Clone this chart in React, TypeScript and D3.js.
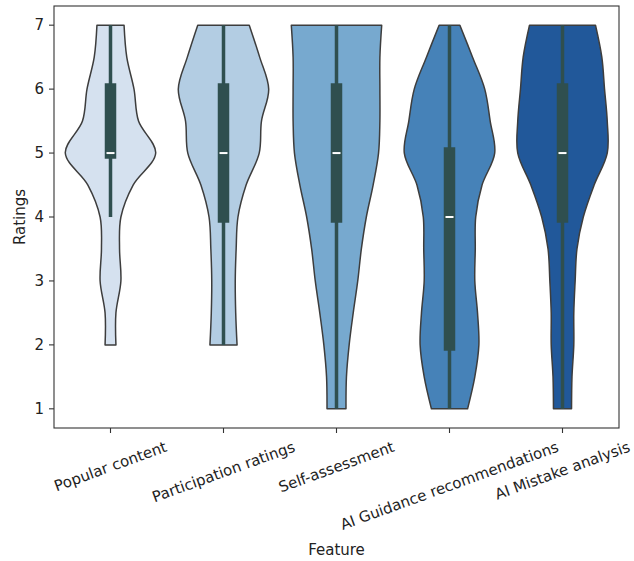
import React, { useEffect, useRef } from 'react';
import * as d3 from 'd3';

const features = [
  'Popular content',
  'Participation ratings',
  'Self-assessment',
  'AI Guidance recommendations',
  'AI Mistake analysis'
];

// rating levels the violin outline was read at (top to bottom)
const levels = [7, 6.5, 6, 5.5, 5, 4.5, 4, 3.5, 3, 2.5, 2, 1.5, 1];

// relative density (violin half-width) at each level
const popularDensity = [0.3, 0.36, 0.52, 0.62, 1.0, 0.5, 0.23, 0.2, 0.23, 0.12, 0.12];
const participationDensity = [0.57, 0.8, 1.0, 0.84, 0.79, 0.5, 0.32, 0.28, 0.26, 0.27, 0.3];
const selfDensity = [1.0, 0.96, 0.96, 0.96, 0.93, 0.81, 0.66, 0.55, 0.47, 0.37, 0.28, 0.22, 0.21];
const guidanceDensity = [0.23, 0.51, 0.78, 0.9, 1.0, 0.72, 0.58, 0.57, 0.56, 0.62, 0.65, 0.56, 0.4];
const mistakeDensity = [0.73, 0.87, 0.93, 0.99, 0.99, 0.7, 0.46, 0.32, 0.28, 0.25, 0.25, 0.21, 0.2];

const densities = [popularDensity, participationDensity, selfDensity, guidanceDensity, mistakeDensity];

// box stats
const q1 = [5, 4, 4, 2, 4];
const medians = [5, 5, 5, 4, 5];
const q3 = [6, 6, 6, 5, 6];
const whiskerLow = [4, 2, 1, 1, 1];
const whiskerHigh = [7, 7, 7, 7, 7];

const yTicks = [1, 2, 3, 4, 5, 6, 7];
const colors = ['#d5e1ef', '#b3cde3', '#77a9cf', '#4682b8', '#21589a'];

const width = 634;
const height = 561;
const margin = { top: 6, right: 15, bottom: 133, left: 54 };
const font = 'DejaVu Sans, sans-serif';
const fontSize = 15;

function App() {
  const ref = useRef<SVGSVGElement>(null);

  useEffect(() => {
    document.body.style.margin = '0';
    const svg = d3.select(ref.current);
    svg.selectAll('*').remove();

    const x = d3
      .scaleBand()
      .domain(features)
      .range([margin.left, width - margin.right])
      .padding(0);
    const y = d3
      .scaleLinear()
      .domain([0.7, 7.3])
      .range([height - margin.bottom, margin.top]);

    const halfMax = x.bandwidth() * 0.4;
    const bottom = height - margin.bottom;

    features.forEach((f, i) => {
      const cx = x(f)! + x.bandwidth() / 2;
      const pts = densities[i].map((d, k) => ({ r: levels[k], d }));
      const area = d3
        .area<{ r: number; d: number }>()
        .y(p => y(p.r))
        .x0(p => cx - p.d * halfMax)
        .x1(p => cx + p.d * halfMax)
        .curve(d3.curveCatmullRom.alpha(0.5));

      svg
        .append('path')
        .attr('d', area(pts))
        .attr('fill', colors[i])
        .attr('stroke', '#3d3d3d')
        .attr('stroke-width', 1.5)
        .attr('stroke-linejoin', 'round');

      // whisker
      svg
        .append('line')
        .attr('x1', cx)
        .attr('x2', cx)
        .attr('y1', y(whiskerLow[i]))
        .attr('y2', y(whiskerHigh[i]))
        .attr('stroke', '#2f4f4f')
        .attr('stroke-width', 3.5);
      // box
      svg
        .append('line')
        .attr('x1', cx)
        .attr('x2', cx)
        .attr('y1', y(q1[i]))
        .attr('y2', y(q3[i]))
        .attr('stroke', '#2f4f4f')
        .attr('stroke-width', 11.5)
        .attr('stroke-linecap', 'square');
      // median
      svg
        .append('line')
        .attr('x1', cx - 4)
        .attr('x2', cx + 4)
        .attr('y1', y(medians[i]))
        .attr('y2', y(medians[i]))
        .attr('stroke', '#ffffff')
        .attr('stroke-width', 2);
    });

    // frame
    svg
      .append('rect')
      .attr('x', margin.left)
      .attr('y', margin.top)
      .attr('width', width - margin.right - margin.left)
      .attr('height', bottom - margin.top)
      .attr('fill', 'none')
      .attr('stroke', '#333')
      .attr('stroke-width', 1.1);

    // y ticks
    const yg = svg.append('g');
    yTicks.forEach(t => {
      yg.append('line')
        .attr('x1', margin.left - 5)
        .attr('x2', margin.left)
        .attr('y1', y(t))
        .attr('y2', y(t))
        .attr('stroke', '#333')
        .attr('stroke-width', 1.1);
      yg.append('text')
        .attr('x', margin.left - 10)
        .attr('y', y(t))
        .attr('text-anchor', 'end')
        .attr('dominant-baseline', 'central')
        .style('font-family', font)
        .style('font-size', `${fontSize}px`)
        .attr('fill', '#222')
        .text(t);
    });

    // x ticks + rotated labels
    const angle = 20;
    const rad = (angle * Math.PI) / 180;
    features.forEach(f => {
      const cx = x(f)! + x.bandwidth() / 2;
      svg
        .append('line')
        .attr('x1', cx)
        .attr('x2', cx)
        .attr('y1', bottom)
        .attr('y2', bottom + 5)
        .attr('stroke', '#333')
        .attr('stroke-width', 1.1);
      const t = svg
        .append('text')
        .attr('text-anchor', 'middle')
        .attr('dominant-baseline', 'central')
        .style('font-family', font)
        .style('font-size', `${fontSize}px`)
        .attr('fill', '#222')
        .text(f);
      const w = (t.node() as SVGTextElement).getComputedTextLength();
      const h = fontSize * 1.1;
      const H = w * Math.sin(rad) + h * Math.cos(rad);
      const cy = bottom + 10.5 + H / 2;
      t.attr('transform', `translate(${cx},${cy}) rotate(${-angle})`);
    });

    svg
      .append('text')
      .attr('x', (margin.left + width - margin.right) / 2)
      .attr('y', 555)
      .attr('text-anchor', 'middle')
      .style('font-family', font)
      .style('font-size', `${fontSize}px`)
      .attr('fill', '#222')
      .text('Feature');

    svg
      .append('text')
      .attr('transform', `translate(25,${(margin.top + bottom) / 2}) rotate(-90)`)
      .attr('text-anchor', 'middle')
      .style('font-family', font)
      .style('font-size', `${fontSize}px`)
      .attr('fill', '#222')
      .text('Ratings');
  }, []);

  return <svg ref={ref} width={width} height={height} style={{ display: 'block', background: '#fff' }} />;
}

export default App;
